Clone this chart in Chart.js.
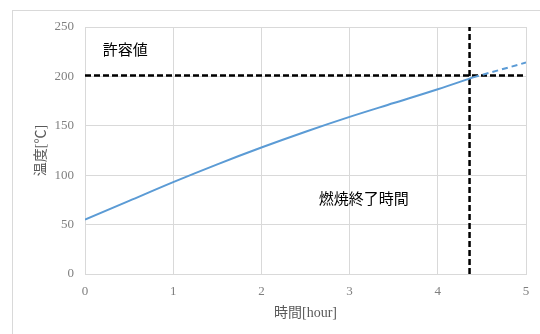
<!DOCTYPE html>
<html>
<head>
<meta charset="utf-8">
<script src="https://cdn.jsdelivr.net/npm/chart.js@4/dist/chart.umd.min.js"></script>
<style>
  body { margin: 0; background: #fff; }
  #wrap { position: relative; width: 540px; height: 334px; }
  #frame { position: absolute; left: 12px; top: 10px; width: 600px; height: 400px; border: 1px solid #d9d9d9; }
  canvas { position: absolute; left: 0; top: 0; }
</style>
</head>
<body>
<div id="wrap">
  <div id="frame"></div>
  <canvas id="chart" width="540" height="334"></canvas>
</div>
<script>
// temperature curve (hours -> deg C), solid part until burn end
const solidHours = [0, 0.5, 1, 1.5, 2, 2.5, 3, 3.5, 4, 4.4];
const solidTemps = [55, 74, 93, 111, 128, 144, 159, 173, 187, 199];
// extrapolated part (dashed)
const dashHours = [4.4, 5];
const dashTemps = [199, 214];

const limitTemp = 201;     // 許容値
const burnEndHour = 4.36;  // 燃焼終了時間

const xTicks = [0, 1, 2, 3, 4, 5];
const yTicks = [0, 50, 100, 150, 200, 250];

const labels = [
    { text: '許容値', x: 0.2, y: 226 },
    { text: '燃焼終了時間', x: 2.65, y: 75 }
];

const serif = '"Liberation Serif", "Noto Sans CJK JP", serif';

function toPoints(xs, ys) {
    return xs.map((x, i) => ({ x: x, y: ys[i] }));
}

const textPlugin = {
    id: 'textLabels',
    afterDatasetsDraw(chart) {
        const ctx = chart.ctx;
        const xs = chart.scales.x, ys = chart.scales.y;
        ctx.save();
        ctx.font = '15px ' + serif;
        ctx.fillStyle = '#000';
        ctx.textAlign = 'left';
        ctx.textBaseline = 'middle';
        labels.forEach(l => {
            ctx.fillText(l.text, xs.getPixelForValue(l.x), ys.getPixelForValue(l.y));
        });
        ctx.restore();
    }
};

new Chart(document.getElementById('chart'), {
    type: 'scatter',
    data: {
        datasets: [
            {
                data: toPoints(solidHours, solidTemps),
                showLine: true, borderColor: '#5b9bd5', borderWidth: 2,
                pointRadius: 0, tension: 0.4, cubicInterpolationMode: 'monotone'
            },
            {
                data: toPoints(dashHours, dashTemps),
                showLine: true, borderColor: '#5b9bd5', borderWidth: 2,
                borderDash: [6, 4], pointRadius: 0
            },
            {
                data: toPoints([0, 5], [limitTemp, limitTemp]),
                showLine: true, borderColor: '#000', borderWidth: 2.5,
                borderDash: [6, 3], pointRadius: 0
            },
            {
                data: toPoints([burnEndHour, burnEndHour], [0, 250]),
                showLine: true, borderColor: '#000', borderWidth: 2.5,
                borderDash: [6, 3], pointRadius: 0
            }
        ]
    },
    options: {
        responsive: false,
        animation: false,
        layout: { padding: { top: 27, right: 14, left: 33, bottom: 12 } },
        plugins: {
            legend: { display: false },
            tooltip: { enabled: false }
        },
        scales: {
            x: {
                type: 'linear', min: 0, max: 5,
                afterBuildTicks: s => { s.ticks = xTicks.map(v => ({ value: v })); },
                afterFit: s => { s.height = 48; },
                grid: { color: '#d9d9d9', drawTicks: false },
                border: { color: '#d9d9d9' },
                ticks: { color: '#7f7f7f', font: { family: serif, size: 13 }, padding: 10 },
                title: { display: true, text: '時間[hour]', color: '#595959',
                         font: { family: serif, size: 14 }, padding: 0 }
            },
            y: {
                min: 0, max: 250,
                afterBuildTicks: s => { s.ticks = yTicks.map(v => ({ value: v })); },
                afterFit: s => { s.width = 52; },
                grid: { color: '#d9d9d9', drawTicks: false },
                border: { color: '#d9d9d9' },
                ticks: { color: '#7f7f7f', font: { family: serif, size: 13 }, padding: 11 },
                title: { display: true, text: '温度[℃]', color: '#595959',
                         font: { family: serif, size: 14 }, padding: 0 }
            }
        }
    },
    plugins: [textPlugin]
});
</script>
</body>
</html>
